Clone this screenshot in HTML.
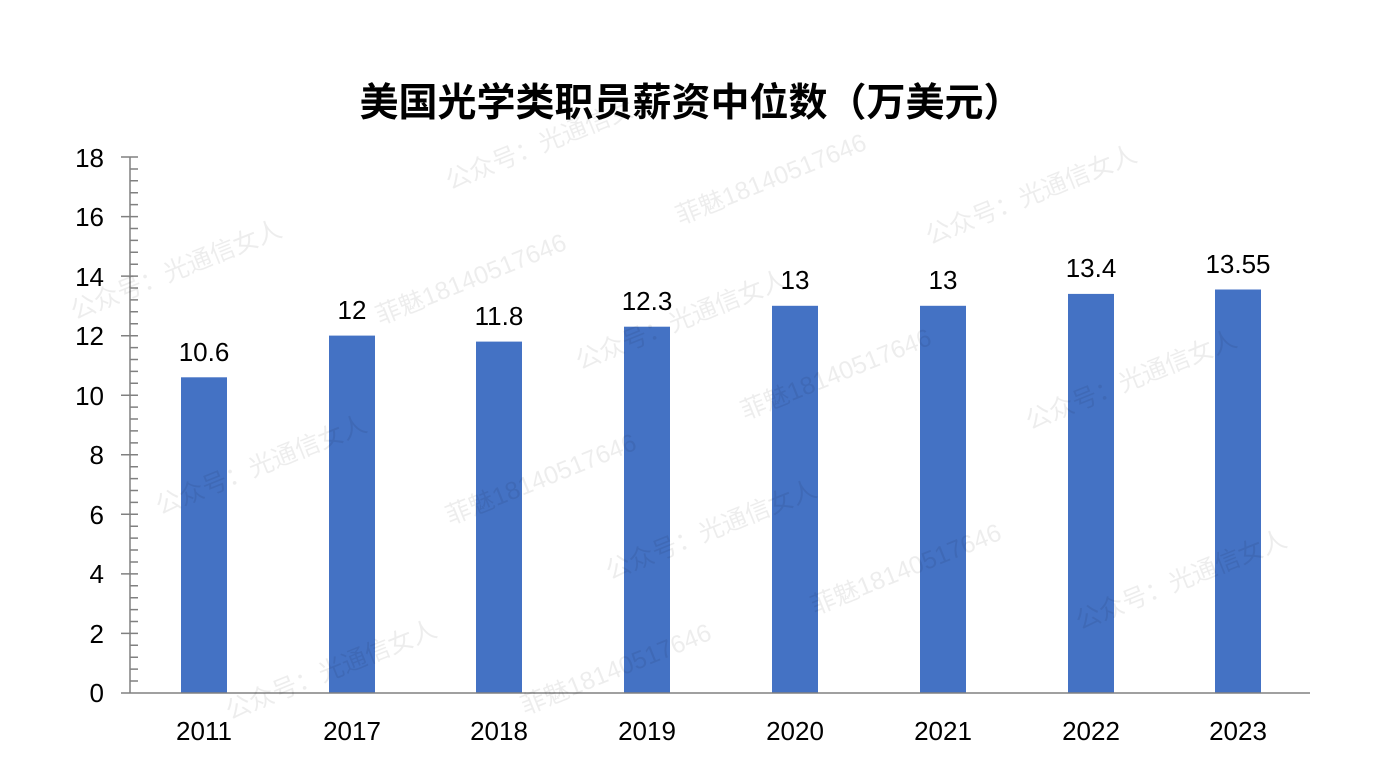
<!DOCTYPE html>
<html><head><meta charset="utf-8"><style>body{margin:0;background:#fff}svg{display:block}</style></head>
<body>
<svg width="1384" height="779" xmlns="http://www.w3.org/2000/svg" font-family="'Liberation Sans','Noto Sans CJK SC',sans-serif">
<rect width="1384" height="779" fill="#fff"/>
<text x="691" y="116" text-anchor="middle" font-size="39" font-weight="bold" fill="#000">美国光学类职员薪资中位数（万美元）</text>
<g fill="#4472c4">
<rect x="181" y="377.3" width="46" height="315.7"/>
<rect x="329" y="335.6" width="46" height="357.4"/>
<rect x="476" y="341.6" width="46" height="351.4"/>
<rect x="624" y="326.7" width="46" height="366.3"/>
<rect x="772" y="305.8" width="46" height="387.2"/>
<rect x="920" y="305.8" width="46" height="387.2"/>
<rect x="1068" y="293.9" width="46" height="399.1"/>
<rect x="1215" y="289.5" width="46" height="403.5"/>
</g>
<g stroke="#808080" stroke-width="1.5" fill="none">
<line x1="130" y1="157" x2="130" y2="693"/>
<line x1="121" y1="693" x2="1310" y2="693"/>
<path d="M121 157H138M121 216.6H138M121 276.1H138M121 335.7H138M121 395.2H138M121 454.8H138M121 514.3H138M121 573.9H138M121 633.4H138"/>
<path d="M130 169H138M130 180.8H138M130 192.7H138M130 204.6H138M130 228.5H138M130 240.4H138M130 252.3H138M130 264.2H138M130 288H138M130 299.9H138M130 311.8H138M130 323.7H138M130 347.6H138M130 359.5H138M130 371.4H138M130 383.3H138M130 407.1H138M130 419H138M130 430.9H138M130 442.9H138M130 466.7H138M130 478.6H138M130 490.5H138M130 502.4H138M130 526.2H138M130 538.1H138M130 550H138M130 562H138M130 585.8H138M130 597.7H138M130 609.6H138M130 621.5H138M130 645.3H138M130 657.2H138M130 669.1H138M130 681H138"/>
</g>
<g font-size="26" fill="#000" text-anchor="end">
<text x="104" y="167">18</text><text x="104" y="226">16</text><text x="104" y="286">14</text><text x="104" y="345">12</text><text x="104" y="405">10</text><text x="104" y="464">8</text><text x="104" y="524">6</text><text x="104" y="583">4</text><text x="104" y="643">2</text><text x="104" y="702">0</text>
</g>
<g font-size="26" fill="#000" text-anchor="middle">
<text x="204" y="740">2011</text><text x="352" y="740">2017</text><text x="499" y="740">2018</text><text x="647" y="740">2019</text><text x="795" y="740">2020</text><text x="943" y="740">2021</text><text x="1091" y="740">2022</text><text x="1238" y="740">2023</text>
<text x="204" y="361">10.6</text><text x="352" y="319">12</text><text x="499" y="325">11.8</text><text x="647" y="310">12.3</text><text x="795" y="289">13</text><text x="943" y="289">13</text><text x="1091" y="277">13.4</text><text x="1238" y="273">13.55</text>
</g>
<g font-size="25" fill="#000" fill-opacity="0.07">
<text transform="translate(450,190) rotate(-22)">公众号：光通信女人</text>
<text transform="translate(75,320) rotate(-22)">公众号：光通信女人</text>
<text transform="translate(160,515) rotate(-22)">公众号：光通信女人</text>
<text transform="translate(580,370) rotate(-22)">公众号：光通信女人</text>
<text transform="translate(930,245) rotate(-22)">公众号：光通信女人</text>
<text transform="translate(1030,430) rotate(-22)">公众号：光通信女人</text>
<text transform="translate(610,580) rotate(-22)">公众号：光通信女人</text>
<text transform="translate(1080,630) rotate(-22)">公众号：光通信女人</text>
<text transform="translate(230,720) rotate(-22)">公众号：光通信女人</text>
<text transform="translate(680,225) rotate(-22)">菲魅18140517646</text>
<text transform="translate(380,325) rotate(-22)">菲魅18140517646</text>
<text transform="translate(450,525) rotate(-22)">菲魅18140517646</text>
<text transform="translate(745,420) rotate(-22)">菲魅18140517646</text>
<text transform="translate(815,615) rotate(-22)">菲魅18140517646</text>
<text transform="translate(525,715) rotate(-22)">菲魅18140517646</text>
</g>
</svg>
</body></html>
